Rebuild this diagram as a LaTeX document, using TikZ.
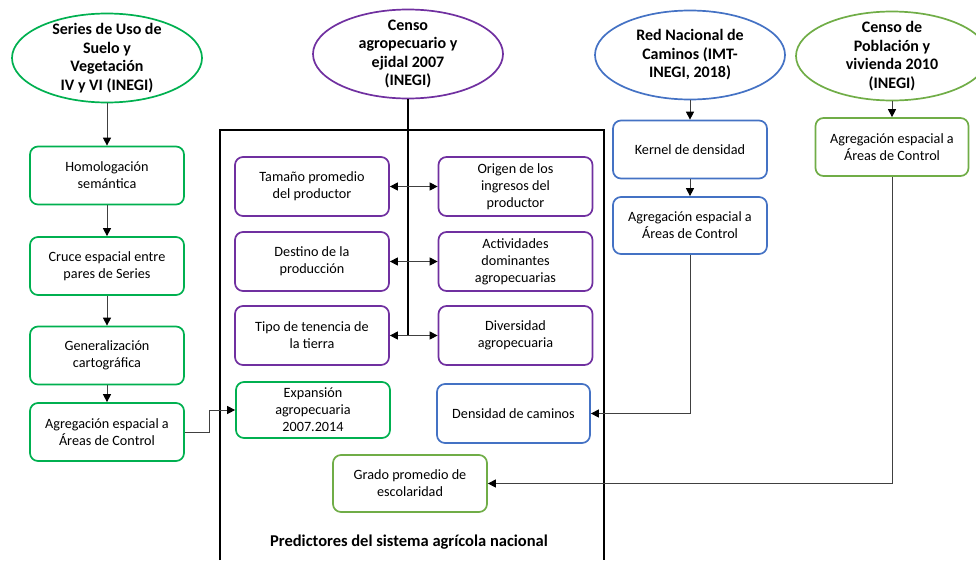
\documentclass[tikz,border=0pt]{standalone}
\usepackage{fontspec}
\setmainfont{Carlito}
\usetikzlibrary{shapes.geometric,arrows.meta}
\definecolor{vGreen}{HTML}{00B050}
\definecolor{vPurple}{HTML}{7030A0}
\definecolor{vBlue}{HTML}{4472C4}
\definecolor{vLime}{HTML}{70AD47}
\tikzset{
  fuente/.style={ellipse, draw, line width=1.7pt, minimum width=190pt, minimum height=89pt,
    inner xsep=-8pt, inner ysep=-8pt, align=center, font=\bfseries\fontsize{16}{18.5}\selectfont},
  caja/.style={rectangle, rounded corners=8pt, draw, line width=1.7pt, minimum width=154pt,
    minimum height=58pt, inner sep=2pt, align=center, font=\fontsize{14.2}{17}\selectfont},
  flecha/.style={draw=black!75, line width=0.9pt, -{Triangle[length=8pt,width=8pt,black]}},
  doble/.style={draw=black!75, line width=0.9pt,
    {Triangle[length=8pt,width=8pt,black]}-{Triangle[length=8pt,width=8pt,black]}}
}
\begin{document}
\begin{tikzpicture}[x=1pt,y=-1pt]
\useasboundingbox (0,0) rectangle (976,560);
\clip (0,0) rectangle (976,560);
% fuentes de datos
\node[fuente,draw=vGreen] (serie) at (107,58) {Series de Uso de\\Suelo y\\Vegetación\\IV y VI (INEGI)};
\node[fuente,draw=vPurple] (censo) at (408,54) {Censo\\agropecuario y\\ejidal 2007\\(INEGI)};
\node[fuente,draw=vBlue] (red) at (690,55) {Red Nacional de\\Caminos (IMT-\\INEGI, 2018)};
\node[fuente,draw=vLime,minimum width=192pt] (pobla) at (892,56) {Censo de\\Población y\\vivienda 2010\\(INEGI)};

% columna izquierda
\node[caja,draw=vGreen] (homo) at (107,175.5) {Homologación\\semántica};
\node[caja,draw=vGreen] (cruce) at (107,266) {Cruce espacial entre\\pares de Series};
\node[caja,draw=vGreen] (gene) at (107,355.5) {Generalización\\cartográfica};
\node[caja,draw=vGreen] (agreA) at (107,432) {Agregación espacial a\\Áreas de Control};

% caminos y poblacion
\node[caja,draw=vBlue] (kern) at (690,149.5) {Kernel de densidad};
\node[caja,draw=vBlue,minimum height=57pt] (agreB) at (690,225.5) {Agregación espacial a\\Áreas de Control};
\node[caja,draw=vLime,minimum width=153pt] (agreC) at (892,147) {Agregación espacial a\\Áreas de Control};

% recuadro de predictores
\draw[line width=1.5pt] (220,560) -- (220,130) -- (604,130) -- (604,560);
\node[font=\bfseries\fontsize{16.5}{19}\selectfont] (titulo) at (409,542) {Predictores del sistema agrícola nacional};

\node[caja,draw=vPurple,minimum height=59pt] (tama) at (312,186.5) {Tamaño promedio\\del productor};
\node[caja,draw=vPurple,minimum height=59pt] (orig) at (515.5,186.5) {Origen de los\\ingresos del\\productor};
\node[caja,draw=vPurple,minimum height=59pt] (dest) at (312,261.5) {Destino de la\\producción};
\node[caja,draw=vPurple,minimum height=59pt] (acti) at (515.5,261.5) {Actividades\\dominantes\\agropecuarias};
\node[caja,draw=vPurple,minimum height=59pt] (tene) at (312,335.5) {Tipo de tenencia de\\la tierra};
\node[caja,draw=vPurple,minimum height=59pt] (dive) at (515.5,335.5) {Diversidad\\agropecuaria};
\node[caja,draw=vGreen,minimum height=56pt] (expa) at (313,410) {Expansión\\agropecuaria\\2007.2014};
\node[caja,draw=vBlue,minimum width=153pt,minimum height=59pt] (dens) at (513.5,413.5) {Densidad de caminos};
\node[caja,draw=vLime,minimum height=57pt] (grado) at (410,483.5) {Grado promedio de\\escolaridad};

% conexiones
\draw[flecha] (serie.south) -- (homo.north);
\draw[flecha] (homo.south) -- (cruce.north);
\draw[flecha] (cruce.south) -- (gene.north);
\draw[flecha] (gene.south) -- (agreA.north);
\draw[flecha] (agreA.east) -- ++(25,0) |- (expa.west);
\draw[line width=1.5pt] (censo.south) -- (censo.south |- tene.east);
\draw[doble] (tama.east) -- (orig.west);
\draw[doble] (dest.east) -- (acti.west);
\draw[doble] (tene.east) -- (dive.west);
\draw[flecha] (red.south) -- (kern.north);
\draw[flecha] (kern.south) -- (agreB.north);
\draw[flecha] (agreB.south) |- (dens.east);
\draw[flecha] (pobla.south) -- (agreC.north);
\draw[flecha] (agreC.south) |- (grado.east);
\end{tikzpicture}
\end{document}
